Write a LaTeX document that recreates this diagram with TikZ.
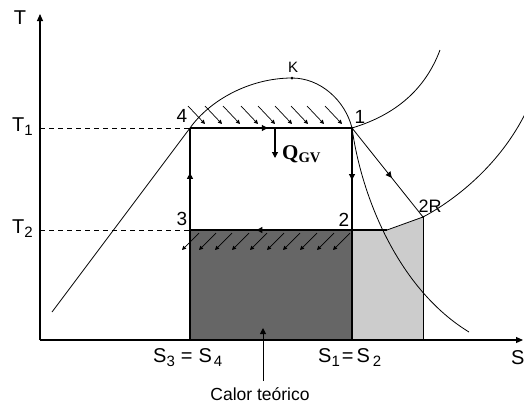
\documentclass[tikz,border=0pt]{standalone}
\usepackage{fontspec}
\setmainfont{Liberation Sans}
\newfontfamily\qfont{Liberation Serif}
\usetikzlibrary{arrows.meta,decorations.markings}
\newcommand{\subsc}[1]{{\fontsize{15}{15}\selectfont\raisebox{-4pt}{#1}}}
\begin{document}
\begin{tikzpicture}[x=1pt,y=-1pt,
  axisline/.style={line width=1.1pt,-{Triangle[length=7pt,width=6pt]}},
  cycleline/.style={line width=1.1pt},
  curveline/.style={line width=0.8pt},
  dashline/.style={line width=0.9pt,dash pattern=on 5pt off 4pt},
  midarrow/.style={postaction={decorate,decoration={markings,mark=at position #1 with {\arrow{Triangle[length=6pt,width=6pt]}}}}},
  hatch/.style={line width=0.7pt,-{Triangle[length=4pt,width=4pt]}},
  lbl/.style={font=\fontsize{19}{19}\selectfont,inner sep=0pt},
  axlbl/.style={font=\fontsize{20}{20}\selectfont,inner sep=0pt},
  darkfill/.style={fill=black!60},
  lightfill/.style={fill=black!20}
]
\useasboundingbox (0,0) rectangle (524,408);
% points
\coordinate (O) at (40,340);
\coordinate (Ty) at (40,14);
\coordinate (Sx) at (523,340);
\coordinate (p4) at (190,128);
\coordinate (p1) at (352,128);
\coordinate (p3) at (190,230);
\coordinate (p2) at (352,230);
\coordinate (p2R) at (423,217);
\coordinate (sv) at (387,230);
\coordinate (K) at (292,78);
\coordinate (b3) at (190,340);
\coordinate (b1) at (352,340);
\coordinate (bR) at (423,340);
\coordinate (T1a) at (40,128);
\coordinate (T2a) at (40,230);
% fills
\fill[darkfill] (p3) rectangle (b1);
\fill[lightfill] (b1) -- (p2) -- (sv) -- (p2R) -- (bR) -- cycle;
% dashed
\draw[dashline] (T1a) -- (p4);
\draw[dashline] (T2a) -- (p3);
% dome
\draw[curveline] (52,312) -- (p4) .. controls (210,100) and (250,78) .. (K)
  .. controls (320,78) and (345,100) .. (p1)
  .. controls (362,200) and (400,290) .. (469,332);
\fill (K) circle (1.5pt);
% isobars
\draw[curveline] (p1) .. controls (395,115) and (425,90) .. (440,50);
\draw[curveline] (sv) -- (p2R) .. controls (455,200) and (500,165) .. (526,112);
% cycle
\draw[cycleline,midarrow=0.48] (p4) -- (p1);
\draw[cycleline,midarrow=0.51] (p1) -- (p2);
\draw[cycleline] (p2) -- (b1);
\draw[cycleline,midarrow=0.59] (p2) -- (p3);
\draw[cycleline] (p2) -- (sv);
\draw[cycleline,midarrow=0.56] (p3) -- (p4);
\draw[cycleline] (p3) -- (b3);
\draw[curveline] (p2R) -- (bR);
\draw[curveline,midarrow=0.56] (p1) -- (p2R);
\fill (p1) circle (1.4pt);
\fill (p2R) circle (1.2pt);
% hatch arrows
\foreach \x in {205,222,240,258,275,292,308,324,342}
  \draw[hatch] (\x-17,106) -- (\x,124);
\foreach \x in {182,199,215,232,250,267,283,300,317,333}
  \draw[hatch] (\x+17,233) -- (\x,250);
% Q arrow
\coordinate (qtop) at (275,128);
\coordinate (qbot) at (275,158);
\draw[cycleline,-{Triangle[length=6pt,width=6pt]}] (qtop) -- (qbot);
\node[inner sep=0pt,anchor=west] (Q) at (282,154) {\qfont\bfseries\fontsize{21}{21}\selectfont Q\textsubscript{GV}};
% axes
\draw[axisline] (O) -- (Ty);
\draw[axisline] (O) -- (Sx);
% labels
\node[axlbl] (lT) at (20,18) {T};
\node[axlbl,anchor=west] (lT1) at (12,127) {T\subsc{1}};
\node[axlbl,anchor=west] (lT2) at (12,229) {T\subsc{2}};
\node[lbl] (l4) at (182,116) {4};
\node[lbl] (l1) at (360,117) {1};
\node[lbl] (l3) at (182,219) {3};
\node[lbl] (l2) at (344,220) {2};
\node[font=\fontsize{18}{18}\selectfont,inner sep=0pt] (l2R) at (430,206) {2R};
\node[font=\fontsize{15}{15}\selectfont,inner sep=0pt] (lK) at (293,67) {K};
\node[axlbl,anchor=west] (lS34) at (153,358) {S\subsc{3}\hspace{6pt}=\hspace{6pt}S\hspace{2pt}\subsc{4}};
\node[axlbl,anchor=west] (lS12) at (318,358) {S\subsc{1}\hspace{2pt}=\hspace{3pt}S\hspace{3pt}\subsc{2}};
\node[axlbl,anchor=west] (lS) at (511,358) {S};
\node[font=\fontsize{17.5}{17.5}\selectfont,inner sep=0pt] (cal) at (260,394) {Calor teórico};
\coordinate (caltip) at (263,328);
\draw[line width=1pt,-{Triangle[length=6pt,width=6pt]}] (263,381) -- (caltip);
\end{tikzpicture}
\end{document}
